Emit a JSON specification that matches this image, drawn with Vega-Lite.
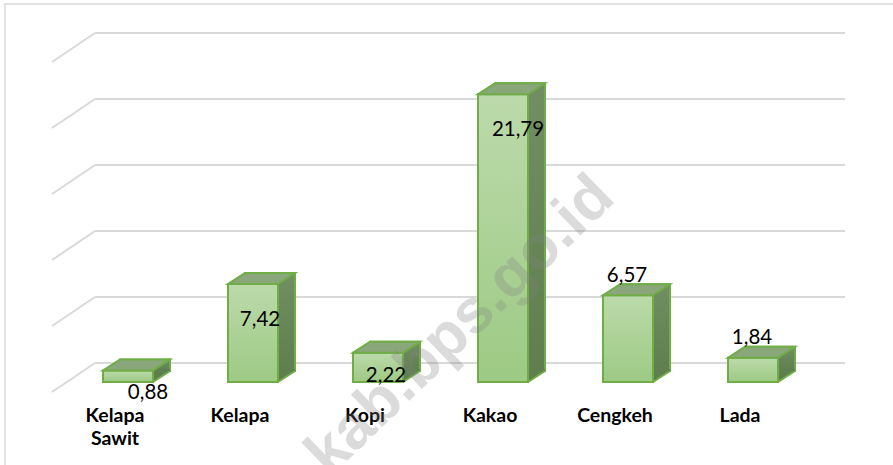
{
  "$schema": "https://vega.github.io/schema/vega-lite/v6.json",
  "width": 750,
  "height": 330,
  "autosize": {"type": "none"},
  "padding": {"left": 95, "top": 33, "right": 48, "bottom": 102},
  "background": "white",
  "config": {
    "view": {"stroke": null},
    "locale": {"number": {"decimal": ",", "thousands": ".", "grouping": [3], "currency": ["Rp", ""]}}
  },
  "datasets": {
    "crops": [
      {"cat": "Kelapa Sawit", "label": "Kelapa\nSawit", "v": 0.88},
      {"cat": "Kelapa", "label": "Kelapa", "v": 7.42},
      {"cat": "Kopi", "label": "Kopi", "v": 2.22},
      {"cat": "Kakao", "label": "Kakao", "v": 21.79},
      {"cat": "Cengkeh", "label": "Cengkeh", "v": 6.57},
      {"cat": "Lada", "label": "Lada", "v": 1.84}
    ],
    "grid": [{"g": 0}, {"g": 5}, {"g": 10}, {"g": 15}, {"g": 20}, {"g": 25}]
  },
  "data": {"name": "crops"},
  "layer": [
    {
      "data": {"values": [{"o": 1}]},
      "mark": {"type": "rect", "fill": "white", "fillOpacity": 0, "stroke": "#d9d9d9", "strokeWidth": 1.5, "xOffset": -90, "x2Offset": 900, "yOffset": -29, "y2Offset": 120},
      "encoding": {
        "x": {"datum": "Kelapa Sawit", "bandPosition": 0, "type": "nominal", "scale": {"type": "band", "domain": ["Kelapa Sawit", "Kelapa", "Kopi", "Kakao", "Cengkeh", "Lada"], "paddingInner": 0, "paddingOuter": 0}, "axis": null},
        "x2": {"datum": "Kelapa Sawit", "bandPosition": 0},
        "y": {"datum": 25, "type": "quantitative", "scale": {"domain": [0, 25], "nice": false, "zero": true}, "axis": null},
        "y2": {"datum": 0}
      }
    },
    {
      "data": {"name": "grid"},
      "mark": {"type": "rule", "stroke": "#d9d9d9", "strokeWidth": 2},
      "encoding": {
        "x": {"datum": "Kelapa Sawit", "bandPosition": 0, "type": "nominal"},
        "x2": {"datum": "Lada", "bandPosition": 1},
        "y": {"field": "g", "type": "quantitative"}
      }
    },
    {
      "data": {"name": "grid"},
      "mark": {"type": "rule", "stroke": "#d9d9d9", "strokeWidth": 2, "x2Offset": -43, "y2Offset": 29},
      "encoding": {
        "x": {"datum": "Kelapa Sawit", "bandPosition": 0, "type": "nominal"},
        "x2": {"datum": "Kelapa Sawit", "bandPosition": 0},
        "y": {"field": "g", "type": "quantitative"},
        "y2": {"field": "g"}
      }
    },
    {
      "mark": {"type": "bar", "width": 50, "xOffset": -12.5, "yOffset": 8, "y2Offset": 8, "stroke": "#70ad47", "strokeWidth": 2,
        "fill": {"gradient": "linear", "x1": 0, "y1": 0, "x2": 0, "y2": 1, "stops": [{"offset": 0, "color": "#718f62"}, {"offset": 1, "color": "#5f7f4f"}]}},
      "encoding": {
        "x": {"field": "cat", "type": "nominal", "sort": null},
        "y": {"field": "v", "type": "quantitative", "stack": null},
        "y2": {"datum": 0}
      }
    },
    {
      "mark": {"type": "point", "shape": "M25,0 L25,-13 L42,-13 L42,-11 Z", "size": 4, "filled": true, "fill": "#5f7f4f", "strokeWidth": 0, "opacity": 1, "xOffset": -29.5, "yOffset": 19},
      "encoding": {
        "x": {"field": "cat", "type": "nominal"},
        "y": {"datum": 0, "type": "quantitative"}
      }
    },
    {
      "mark": {"type": "point", "shape": "M25,0 L42,-11", "size": 4, "filled": false, "stroke": "#70ad47", "strokeWidth": 2, "opacity": 1, "xOffset": -29.5, "yOffset": 19},
      "encoding": {
        "x": {"field": "cat", "type": "nominal"},
        "y": {"datum": 0, "type": "quantitative"}
      }
    },
    {
      "mark": {"type": "bar", "width": 50, "xOffset": -29.5, "yOffset": 19, "y2Offset": 19, "stroke": "#70ad47", "strokeWidth": 2,
        "fill": {"gradient": "linear", "x1": 0, "y1": 0, "x2": 0, "y2": 1, "stops": [{"offset": 0, "color": "#bcdaab"}, {"offset": 1, "color": "#9dca84"}]}},
      "encoding": {
        "x": {"field": "cat", "type": "nominal"},
        "y": {"field": "v", "type": "quantitative", "stack": null},
        "y2": {"datum": 0}
      }
    },
    {
      "mark": {"type": "point", "shape": "M-25,0 L25,0 L42,-11 L-8,-11 Z", "size": 4, "filled": true, "fill": "#8aa67b", "stroke": "#70ad47", "strokeWidth": 2, "opacity": 1, "xOffset": -29.5, "yOffset": 19},
      "encoding": {
        "x": {"field": "cat", "type": "nominal"},
        "y": {"field": "v", "type": "quantitative"}
      }
    },
    {
      "mark": {"type": "text", "font": "Lato", "fontWeight": "bold", "fontSize": 19.5, "align": "center", "baseline": "alphabetic", "lineBreak": "\n", "lineHeight": 23, "xOffset": -42.5, "yOffset": 59, "fill": "#000000"},
      "encoding": {
        "x": {"field": "cat", "type": "nominal"},
        "y": {"datum": 0, "type": "quantitative"},
        "text": {"field": "label"}
      }
    },
    {
      "transform": [{"filter": {"field": "cat", "equal": "Kelapa Sawit"}}],
      "mark": {"type": "text", "font": "Lato", "fontSize": 20.5, "align": "center", "baseline": "alphabetic", "xOffset": -9.5, "yOffset": 48, "fill": "#000000"},
      "encoding": {
        "x": {"field": "cat", "type": "nominal"},
        "y": {"field": "v", "type": "quantitative"},
        "text": {"field": "v", "type": "quantitative", "format": ".2f"}
      }
    },
    {
      "transform": [{"filter": {"field": "cat", "equal": "Kopi"}}],
      "mark": {"type": "text", "font": "Lato", "fontSize": 20.5, "align": "center", "baseline": "alphabetic", "xOffset": -21.5, "yOffset": 48, "fill": "#000000"},
      "encoding": {
        "x": {"field": "cat", "type": "nominal"},
        "y": {"field": "v", "type": "quantitative"},
        "text": {"field": "v", "type": "quantitative", "format": ".2f"}
      }
    },
    {
      "transform": [{"filter": {"field": "cat", "equal": "Kelapa"}}],
      "mark": {"type": "text", "font": "Lato", "fontSize": 20.5, "align": "center", "baseline": "alphabetic", "xOffset": -22.5, "yOffset": 61, "fill": "#000000"},
      "encoding": {
        "x": {"field": "cat", "type": "nominal"},
        "y": {"field": "v", "type": "quantitative"},
        "text": {"field": "v", "type": "quantitative", "format": ".2f"}
      }
    },
    {
      "transform": [{"filter": {"field": "cat", "equal": "Kakao"}}],
      "mark": {"type": "text", "font": "Lato", "fontSize": 20.5, "align": "center", "baseline": "alphabetic", "xOffset": -14.5, "yOffset": 61, "fill": "#000000"},
      "encoding": {
        "x": {"field": "cat", "type": "nominal"},
        "y": {"field": "v", "type": "quantitative"},
        "text": {"field": "v", "type": "quantitative", "format": ".2f"}
      }
    },
    {
      "transform": [{"filter": {"field": "cat", "oneOf": ["Cengkeh", "Lada"]}}],
      "mark": {"type": "text", "font": "Lato", "fontSize": 20.5, "align": "center", "baseline": "alphabetic", "xOffset": -30.5, "yOffset": 5.5, "fill": "#000000"},
      "encoding": {
        "x": {"field": "cat", "type": "nominal"},
        "y": {"field": "v", "type": "quantitative"},
        "text": {"field": "v", "type": "quantitative", "format": ".2f"}
      }
    },
    {
      "data": {"values": [{"t": "kab.bps.go.id"}]},
      "mark": {"type": "text", "font": "Liberation Sans", "fontWeight": "bold", "fontSize": 62, "angle": -44, "align": "center", "baseline": "middle", "fill": "#808080", "opacity": 0.28, "xOffset": 52.5, "yOffset": 2},
      "encoding": {
        "x": {"datum": "Kopi", "type": "nominal"},
        "y": {"datum": 3, "type": "quantitative"},
        "text": {"field": "t"}
      }
    }
  ]
}
